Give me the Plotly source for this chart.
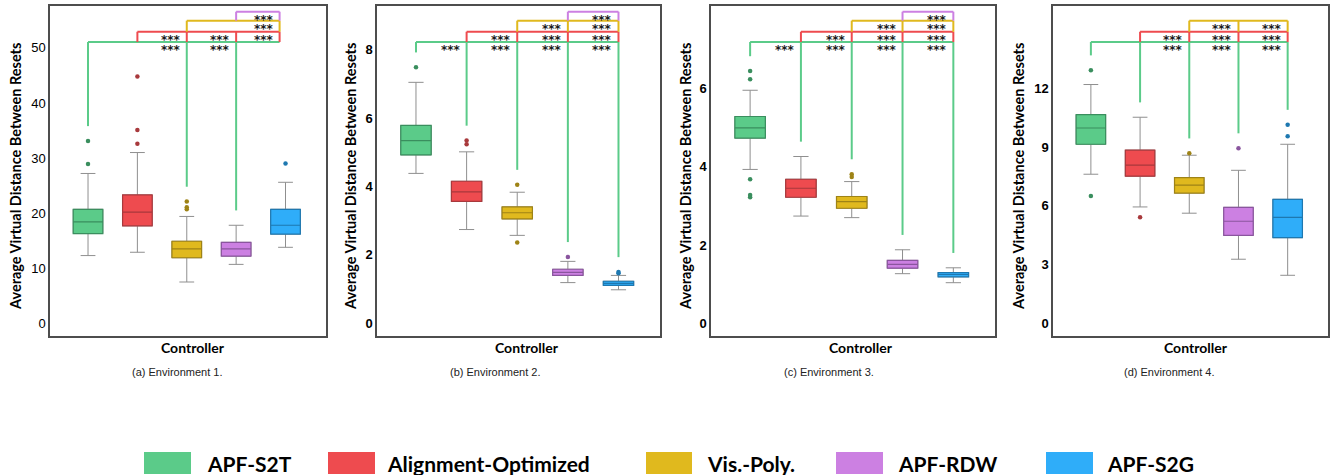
import plotly.graph_objects as go

# ---------------- data ----------------
groups = ["APF-S2T", "Alignment-Optimized", "Vis.-Poly.", "APF-RDW", "APF-S2G"]
captions = ["(a) Environment 1.", "(b) Environment 2.", "(c) Environment 3.", "(d) Environment 4."]
y_title = "Average Virtual Distance Between Resets"
x_title = "Controller"

env1_q1 = [16.3, 17.7, 11.9, 12.2, 16.2]
env1_median = [18.4, 20.2, 13.5, 13.5, 17.8]
env1_q3 = [20.7, 23.3, 14.9, 14.7, 20.7]
env1_low = [12.3, 12.9, 7.5, 10.7, 13.8]
env1_high = [27.2, 31.0, 19.4, 17.8, 25.6]
env1_outliers = [[33.1, 28.9], [44.8, 35.1, 32.6], [22.1, 21.05, 20.7], [], [29.0]]

env2_q1 = [4.92, 3.56, 3.05, 1.40, 1.11]
env2_median = [5.34, 3.84, 3.23, 1.49, 1.17]
env2_q3 = [5.78, 4.15, 3.40, 1.58, 1.23]
env2_low = [4.38, 2.74, 2.57, 1.19, 0.98]
env2_high = [7.04, 5.01, 3.83, 1.81, 1.40]
env2_outliers = [[7.48], [5.34, 5.23], [4.05, 2.36], [1.94], [1.50, 1.46]]

env3_q1 = [4.73, 3.22, 2.94, 1.41, 1.19]
env3_median = [4.99, 3.45, 3.11, 1.51, 1.25]
env3_q3 = [5.28, 3.68, 3.24, 1.61, 1.30]
env3_low = [3.93, 2.74, 2.70, 1.27, 1.04]
env3_high = [5.95, 4.26, 3.62, 1.88, 1.42]
env3_outliers = [[6.44, 6.23, 3.68, 3.28, 3.22], [], [3.81, 3.74], [], []]

env4_q1 = [9.14, 7.51, 6.65, 4.49, 4.37]
env4_median = [9.97, 8.07, 7.05, 5.21, 5.41]
env4_q3 = [10.65, 8.84, 7.44, 5.92, 6.33]
env4_low = [7.61, 5.94, 5.62, 3.27, 2.45]
env4_high = [12.19, 10.52, 8.58, 7.81, 9.14]
env4_outliers = [[12.92, 6.50], [5.41], [8.68], [8.94], [10.14, 9.55]]

# significant pairs (***), and groups reached by the long APF-S2T drops
env1_sig = [(0, 2), (0, 3), (1, 2), (1, 3), (1, 4), (2, 4), (3, 4)]
env2_sig = [(0, 1), (0, 2), (0, 3), (0, 4), (1, 2), (1, 3), (1, 4), (2, 3), (2, 4), (3, 4)]
env3_sig = [(0, 1), (0, 2), (0, 3), (0, 4), (1, 2), (1, 3), (1, 4), (2, 3), (2, 4), (3, 4)]
env4_sig = [(0, 2), (0, 3), (0, 4), (1, 2), (1, 3), (1, 4), (2, 3), (2, 4)]
env1_drops = [2, 3]
env2_drops = [1, 2, 3, 4]
env3_drops = [1, 2, 3, 4]
env4_drops = [1, 2, 3, 4]

y_ticks = [[0, 10, 20, 30, 40, 50], [0, 2, 4, 6, 8], [0, 2, 4, 6], [0, 3, 6, 9, 12]]

panels = [
    (env1_q1, env1_median, env1_q3, env1_low, env1_high, env1_outliers, env1_sig, env1_drops),
    (env2_q1, env2_median, env2_q3, env2_low, env2_high, env2_outliers, env2_sig, env2_drops),
    (env3_q1, env3_median, env3_q3, env3_low, env3_high, env3_outliers, env3_sig, env3_drops),
    (env4_q1, env4_median, env4_q3, env4_low, env4_high, env4_outliers, env4_sig, env4_drops),
]

# ---------------- style ----------------
W, H = 1331, 475
TOP, BOT = 6, 336
fills = ["#5BCB89", "#EE4B4F", "#E0B91E", "#CC80E2", "#2FADF9"]
darks = ["#3A8E5E", "#A8393C", "#9E8316", "#8A559E", "#1E78B0"]
whisker_gray = "#8f8f8f"
frame_color = "#4d4d4d"
dom_px = [(50, 326), (377, 660), (711, 995), (1053, 1328)]
y_ranges = [[-2.3, 57.6], [-0.37, 9.27], [-0.32, 8.1], [-0.65, 16.2]]
x_range = [-0.77, 4.82]
bracket_right = [3.88, 4, 4, 4]
level_frac = [0.891, 0.922, 0.9555, 0.9827]
tick_bold = [False, True, True, True]
ytitle_px = [15, 350, 685, 1018]
ctrl_px = [193, 527, 861, 1196]
cap_px = [177, 495, 829, 1169]
BOLD = "Lato"


def px2x(px):
    return px / W


def px2y(py):
    return (BOT - py) / (BOT - TOP)


fig = go.Figure()
shapes = []
annotations = []

for p, (q1, med, q3, lo, hi, outl, sig, drops) in enumerate(panels):
    xa = "x" if p == 0 else f"x{p + 1}"
    ya = "y" if p == 0 else f"y{p + 1}"
    for g in range(5):
        fig.add_trace(go.Box(
            x=[groups[g]], q1=[q1[g]], median=[med[g]], q3=[q3[g]],
            lowerfence=[lo[g]], upperfence=[hi[g]], width=0.6, whiskerwidth=0.5,
            fillcolor=fills[g], line=dict(color=whisker_gray, width=1),
            boxpoints=False, showlegend=False, hoverinfo="skip", xaxis=xa, yaxis=ya))
        fig.add_trace(go.Box(
            x=[groups[g]], q1=[q1[g]], median=[med[g]], q3=[q3[g]],
            lowerfence=[q1[g]], upperfence=[q3[g]], width=0.6, whiskerwidth=0,
            fillcolor=fills[g], line=dict(color=darks[g], width=1.2),
            boxpoints=False, showlegend=False, hoverinfo="skip", xaxis=xa, yaxis=ya))
        if outl[g]:
            fig.add_trace(go.Scatter(
                x=[groups[g]] * len(outl[g]), y=outl[g], mode="markers",
                marker=dict(size=4.5, color=darks[g]), showlegend=False,
                hoverinfo="skip", xaxis=xa, yaxis=ya))

    r0, r1 = y_ranges[p]
    span = r1 - r0
    levels = [r0 + f * span for f in level_frac]
    bx = [0, 1, 2, 3, bracket_right[p]]
    maxes = [max([hi[g]] + outl[g]) for g in range(5)]
    off = 0.045 * span
    rows = sorted(set([0] + [i for i, j in sig]))
    for i in rows:
        col = fills[i]
        ln = dict(color=col, width=2)
        shapes.append(dict(type="line", xref=xa, yref=ya, x0=bx[i], x1=bx[4],
                           y0=levels[i], y1=levels[i], line=ln, layer="above"))
        if i == 0:
            shapes.append(dict(type="line", xref=xa, yref=ya, x0=bx[0], x1=bx[0],
                               y0=levels[0], y1=maxes[0] + off, line=ln))
            for j in drops:
                shapes.append(dict(type="line", xref=xa, yref=ya, x0=bx[j], x1=bx[j],
                                   y0=levels[0], y1=maxes[j] + off, line=ln))
        else:
            tips = [i] + [j for a, j in sig if a == i]
            for j in tips:
                shapes.append(dict(type="line", xref=xa, yref=ya, x0=bx[j], x1=bx[j],
                                   y0=levels[i], y1=levels[i - 1], line=ln))
    for i, j in sig:
        annotations.append(dict(
            x=bx[j], y=levels[i], xref=xa, yref=ya, text="***", showarrow=False,
            xanchor="right", yanchor="middle", xshift=-4, yshift=-8,
            font=dict(family="DejaVu Sans", size=12, color="#1a1a1a", weight="bold")))

    x0p, x1p = dom_px[p]
    fig.update_layout({
        ("xaxis" if p == 0 else f"xaxis{p + 1}"): dict(
            domain=[px2x(x0p), px2x(x1p)], anchor=ya, type="category",
            categoryorder="array", categoryarray=groups, range=x_range,
            showticklabels=False, ticks="", showgrid=False, zeroline=False,
            showline=True, mirror=True, linecolor=frame_color, linewidth=1.5),
        ("yaxis" if p == 0 else f"yaxis{p + 1}"): dict(
            domain=[0, 1], anchor=xa, range=y_ranges[p], tickvals=y_ticks[p],
            ticks="", showgrid=False, zeroline=False,
            showline=True, mirror=True, linecolor=frame_color, linewidth=1.5,
            tickfont=dict(family="Liberation Sans", size=13, color="black",
                          weight="bold" if tick_bold[p] else "normal")),
    })

    annotations.append(dict(x=px2x(ytitle_px[p]), y=px2y(177), xref="paper", yref="paper",
                            text=y_title, textangle=-90, showarrow=False,
                            xanchor="center", yanchor="middle",
                            font=dict(family=BOLD, size=14.5, color="black", weight="bold")))
    annotations.append(dict(x=px2x(ctrl_px[p]), y=px2y(347), xref="paper", yref="paper",
                            text=x_title, showarrow=False, xanchor="center", yanchor="middle",
                            font=dict(family=BOLD, size=14, color="black", weight="bold")))
    annotations.append(dict(x=px2x(cap_px[p]), y=px2y(372), xref="paper", yref="paper",
                            text=captions[p], showarrow=False, xanchor="center", yanchor="middle",
                            font=dict(family="Liberation Sans", size=11, color="#222222")))

# legend drawn manually
leg_rect_px = [(144, 191), (328, 375), (646, 692), (836, 883), (1046, 1093)]
leg_text_px = [205, 385, 705, 896, 1105]
for g in range(5):
    a, b = leg_rect_px[g]
    shapes.append(dict(type="rect", xref="paper", yref="paper", x0=px2x(a), x1=px2x(b),
                       y0=px2y(474), y1=px2y(452), fillcolor=fills[g], line=dict(width=0)))
    annotations.append(dict(x=px2x(leg_text_px[g]), y=px2y(463), xref="paper", yref="paper",
                            text=groups[g], showarrow=False, xanchor="left", yanchor="middle",
                            font=dict(family=BOLD, size=21, color="black", weight="bold")))

fig.update_layout(
    width=W, height=H, autosize=False,
    margin=dict(l=0, r=0, t=TOP, b=H - BOT, pad=0),
    paper_bgcolor="white", plot_bgcolor="white",
    boxmode="overlay", showlegend=False,
    shapes=shapes, annotations=annotations,
)

fig.write_html("out.html", config={"displayModeBar": False},
               post_script="document.body.style.margin='0px';")
